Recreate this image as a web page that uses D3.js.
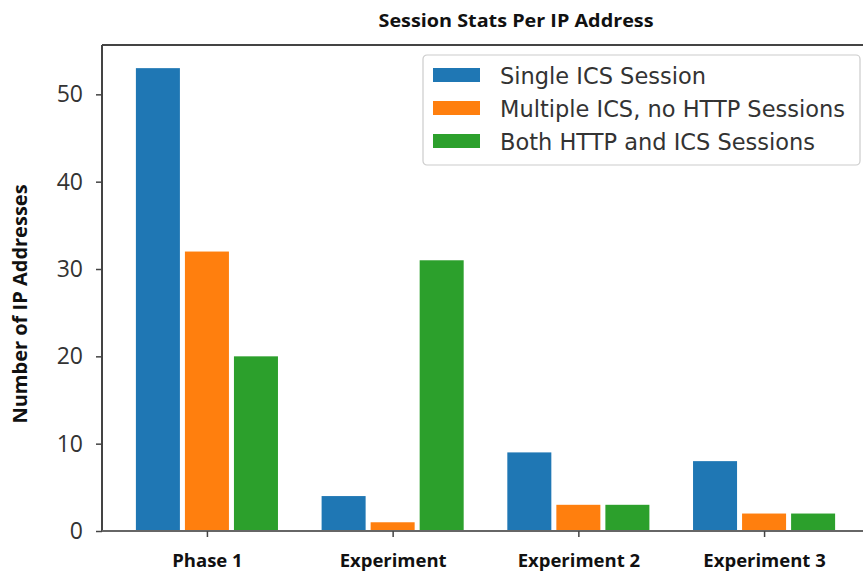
<!DOCTYPE html>
<html>
<head>
<meta charset="utf-8">
<script src="https://cdn.jsdelivr.net/npm/d3@7"></script>
<style>
  body { margin: 0; background: #fff; }
  svg { display: block; }
</style>
</head>
<body>
<svg id="chart" width="863" height="573"></svg>
<script>
const categories = ["Phase 1", "Experiment", "Experiment 2", "Experiment 3"];
const seriesNames = ["Single ICS Session", "Multiple ICS, no HTTP Sessions", "Both HTTP and ICS Sessions"];
const singleIcs = [53, 4, 9, 8];
const multipleIcs = [32, 1, 3, 2];
const bothHttpIcs = [20, 31, 3, 2];
const yTicks = [0, 10, 20, 30, 40, 50];

const colors = ["#1f77b4", "#ff7f0e", "#2ca02c"];
const series = [singleIcs, multipleIcs, bothHttpIcs];

const svg = d3.select("#chart");
const margin = { top: 45, left: 102, bottom: 42 };
const plotRight = 869; // right spine falls just outside the frame
const height = 573 - margin.top - margin.bottom;

// categories at 0..3, three bars per group
const x = d3.scaleLinear().domain([-0.565, 3.565]).range([margin.left, plotRight]);
const y = d3.scaleLinear().domain([0, 55.65]).range([margin.top + height, margin.top]);
const pitch = 0.264;
const barW = 0.237;

const g = svg.append("g");

series.forEach((vals, s) => {
  g.selectAll(".bar-" + s)
    .data(vals)
    .enter()
    .append("rect")
    .attr("class", "bar-" + s)
    .attr("x", (d, i) => x(i + (s - 1) * pitch - barW / 2))
    .attr("width", x(barW) - x(0))
    .attr("y", d => y(d))
    .attr("height", d => y(0) - y(d))
    .attr("fill", colors[s]);
});

// spines
const spine = "#444";
g.append("line").attr("x1", margin.left).attr("x2", margin.left)
  .attr("y1", y(55.65)).attr("y2", y(0)).attr("stroke", spine).attr("stroke-width", 2);
g.append("line").attr("x1", margin.left).attr("x2", plotRight)
  .attr("y1", y(55.65)).attr("y2", y(55.65)).attr("stroke", spine).attr("stroke-width", 2);
g.append("line").attr("x1", margin.left).attr("x2", plotRight)
  .attr("y1", y(0)).attr("y2", y(0)).attr("stroke", "#666").attr("stroke-width", 2);

// y axis
const yAxis = g.append("g")
  .attr("transform", `translate(${margin.left},0)`)
  .call(d3.axisLeft(y).tickValues(yTicks).tickSize(6).tickPadding(13));
yAxis.select(".domain").remove();
yAxis.selectAll(".tick line").attr("stroke", spine).attr("stroke-width", 1.5);
yAxis.selectAll(".tick text")
  .attr("fill", "#333")
  .style("font-family", "'Open Sans', sans-serif")
  .style("font-size", "23px");

// x axis
const xAxis = g.append("g")
  .attr("transform", `translate(0,${y(0)})`)
  .call(d3.axisBottom(x).tickValues(d3.range(categories.length))
    .tickFormat(i => categories[i]).tickSize(6));
xAxis.select(".domain").remove();
xAxis.selectAll(".tick line").attr("stroke", spine).attr("stroke-width", 1.5);
xAxis.selectAll(".tick text")
  .attr("y", 36)
  .attr("dy", null)
  .attr("fill", "#111")
  .style("font-family", "'Open Sans', sans-serif")
  .style("font-weight", "bold")
  .style("font-size", "18.5px");

// title and y label
svg.append("text")
  .attr("x", 516)
  .attr("y", 27)
  .attr("text-anchor", "middle")
  .attr("textLength", 275)
  .attr("lengthAdjust", "spacingAndGlyphs")
  .attr("fill", "#111")
  .style("font-family", "'Open Sans', sans-serif")
  .style("font-weight", "bold")
  .style("font-size", "18px")
  .text("Session Stats Per IP Address");

svg.append("text")
  .attr("transform", `translate(27,304) rotate(-90)`)
  .attr("text-anchor", "middle")
  .attr("fill", "#111")
  .style("font-family", "'Open Sans', sans-serif")
  .style("font-weight", "bold")
  .style("font-size", "20px")
  .text("Number of IP Addresses");

// legend
const legend = svg.append("g").attr("transform", "translate(423,55)");
legend.append("rect")
  .attr("width", 437).attr("height", 110).attr("rx", 4)
  .attr("fill", "#fff").attr("stroke", "#ccc").attr("stroke-width", 1.2);

const items = legend.selectAll(".legend-item")
  .data(seriesNames)
  .enter()
  .append("g")
  .attr("class", "legend-item")
  .attr("transform", (d, i) => `translate(10, ${13 + i * 33})`);

items.append("rect")
  .attr("width", 47)
  .attr("height", 14)
  .attr("fill", (d, i) => colors[i]);

items.append("text")
  .attr("x", 67)
  .attr("y", 16)
  .attr("fill", "#333")
  .style("font-family", "'DejaVu Sans', sans-serif")
  .style("font-size", "22.5px")
  .text(d => d);
</script>
</body>
</html>
